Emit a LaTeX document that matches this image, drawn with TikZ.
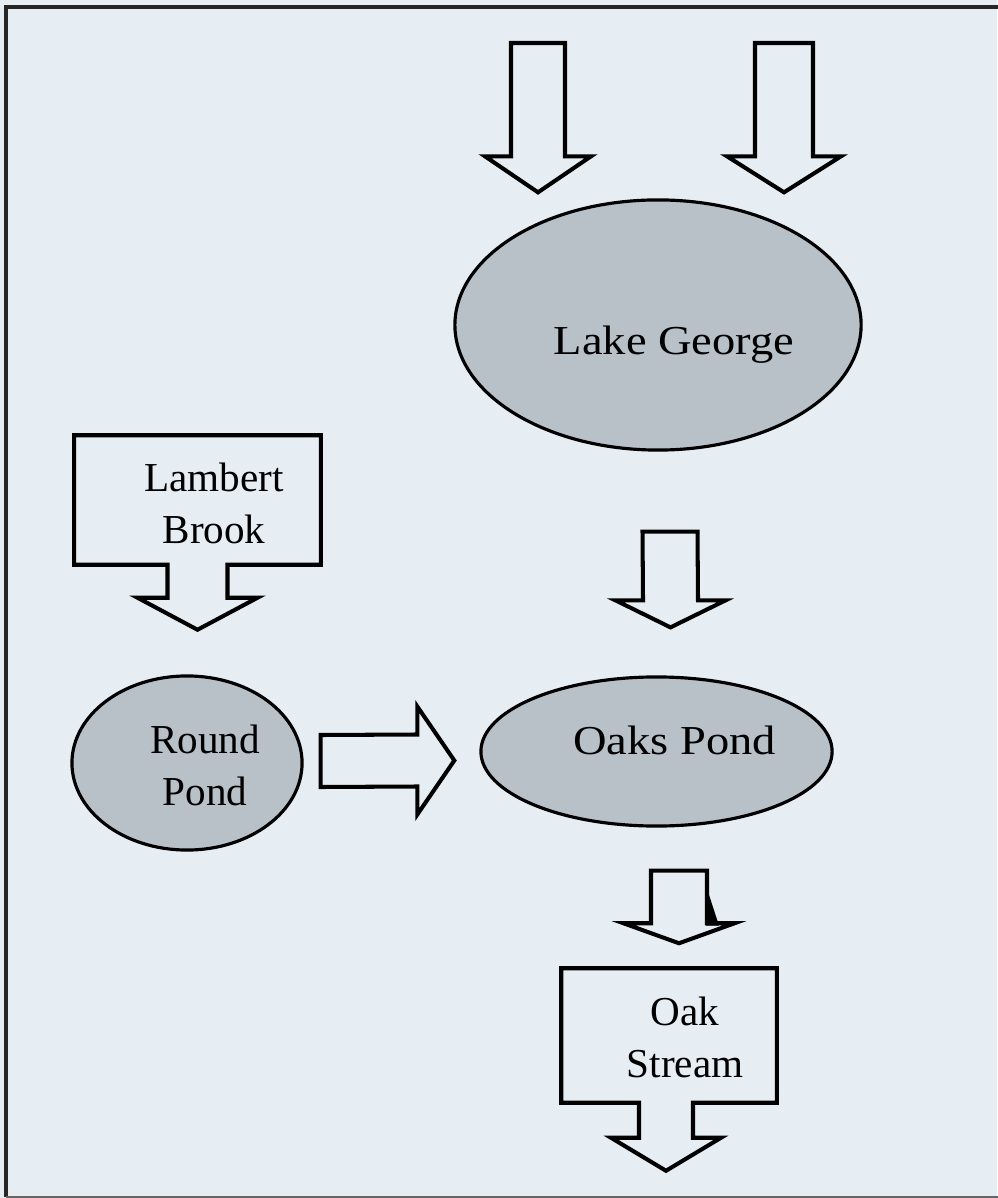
\documentclass[tikz,border=0pt]{standalone}
\usepackage{fontspec}
\setmainfont{Liberation Serif}
\usetikzlibrary{shapes.geometric,calc}

\definecolor{paper}{RGB}{231,238,243}
\definecolor{water}{RGB}{184,192,200}

\tikzset{
    pond/.style={ellipse, draw, line width=0.9pt, fill=water, inner sep=0pt},
    inlet/.style={rectangle, inner sep=0pt},
    flow/.style={draw, line width=1.15pt},
    placename/.style={font=\fontsize{11.7}{15}\selectfont, align=center, inner sep=0pt},
}

\begin{document}
\begin{tikzpicture}[x=0.01cm, y=-0.01cm]
    \useasboundingbox (0,0) rectangle (997,1198);
    \fill[paper] (0,0) rectangle (997,1198);
    \draw[line width=0.9pt, black!85] (6,1197) -- (6,7) -- (1010,7);
    \draw[line width=0.6pt, black!60] (6,1197) -- (1010,1197);

    % ponds
    \node[pond, minimum width=40.6mm, minimum height=25mm] (lake) at (658,325) {};
    \node[pond, minimum width=23mm, minimum height=17.4mm] (round) at (187,763) {};
    \node[pond, minimum width=35.1mm, minimum height=14.9mm] (oaks) at (656.5,751.5) {};
    \node[placename, xscale=1.13, anchor=base] (lakename) at (674,355) {Lake George};
    \node[placename] (roundname) at (205,765.5) {Round\\Pond};
    \node[placename, xscale=1.13, anchor=base] (oaksname) at (674.5,754) {Oaks Pond};

    % brook and stream
    \node[inlet, minimum width=24.5mm, minimum height=12.8mm] (lambert) at (197.5,500) {};
    \node[placename] (lambertname) at (214,503.5) {Lambert\\Brook};
    \node[inlet, minimum width=21.4mm, minimum height=13.3mm] (stream) at (669,1035.5) {};
    \node[placename] (streamname) at (685,1037.5) {Oak\\Stream};

    \draw[flow] (lambert.south west) -- (lambert.north west) -- (lambert.north east) -- (lambert.south east)
        -- ($(lambert.south)+(30,0)$) -- ++(0,33) -- ++(30,0) -- ($(lambert.south)+(0,65)$)
        -- ++(-60,-32) -- ++(30,0) -- ++(0,-33) -- cycle;
    \draw[flow] (stream.south west) -- (stream.north west) -- (stream.north east) -- (stream.south east)
        -- ($(stream.south)+(24,0)$) -- ++(0,35) -- ++(28,0) -- ($(stream.south)+(-3,68)$)
        -- ++(-55,-33) -- ++(28,0) -- ++(0,-35) -- cycle;

    % flows
    \coordinate (westin) at (538,43);
    \coordinate (westinend) at ($(lake.north)+(-120,-6)$);
    \coordinate (eastin) at (784,43);
    \coordinate (eastinend) at ($(lake.north)+(126,-6)$);
    \coordinate (lakeout) at ($(lake.south)+(12,80)$);
    \coordinate (lakeoutend) at ($(oaks.north)+(14,-48)$);
    \coordinate (oaksout) at ($(oaks.south)+(22.5,43)$);
    \coordinate (oaksoutend) at ($(stream.north)+(10,-25)$);
    \coordinate (roundout) at ($(round.east)+(17,-2)$);
    \coordinate (roundoutend) at ($(oaks.west)+(-25,9)$);

    \foreach \a/\b/\s/\h/\l in {westin/westinend/27/53/36, eastin/eastinend/29/57/36,
                                lakeout/lakeoutend/27.5/55/27, oaksout/oaksoutend/28/55.5/20}
        \draw[flow] ($(\a)+(-\s,0)$) -- ($(\a)+(\s,0)$) -- ($(\b)+(\s,-\l)$) -- ($(\b)+(\h,-\l)$)
            -- (\b) -- ($(\b)+(-\h,-\l)$) -- ($(\b)+(-\s,-\l)$) -- cycle;

    \draw[flow] ($(roundout)+(0,-26)$) -- ($(roundoutend)+(-37,-26)$) -- ($(roundoutend)+(-37,-54)$)
        -- (roundoutend) -- ($(roundoutend)+(-37,54)$) -- ($(roundoutend)+(-37,26)$)
        -- ($(roundout)+(0,26)$) -- cycle;
    \fill ($(oaksout)+(27,15)$) -- ($(oaksout)+(40,55)$) -- ($(oaksout)+(27,55)$) -- cycle;
\end{tikzpicture}
\end{document}
